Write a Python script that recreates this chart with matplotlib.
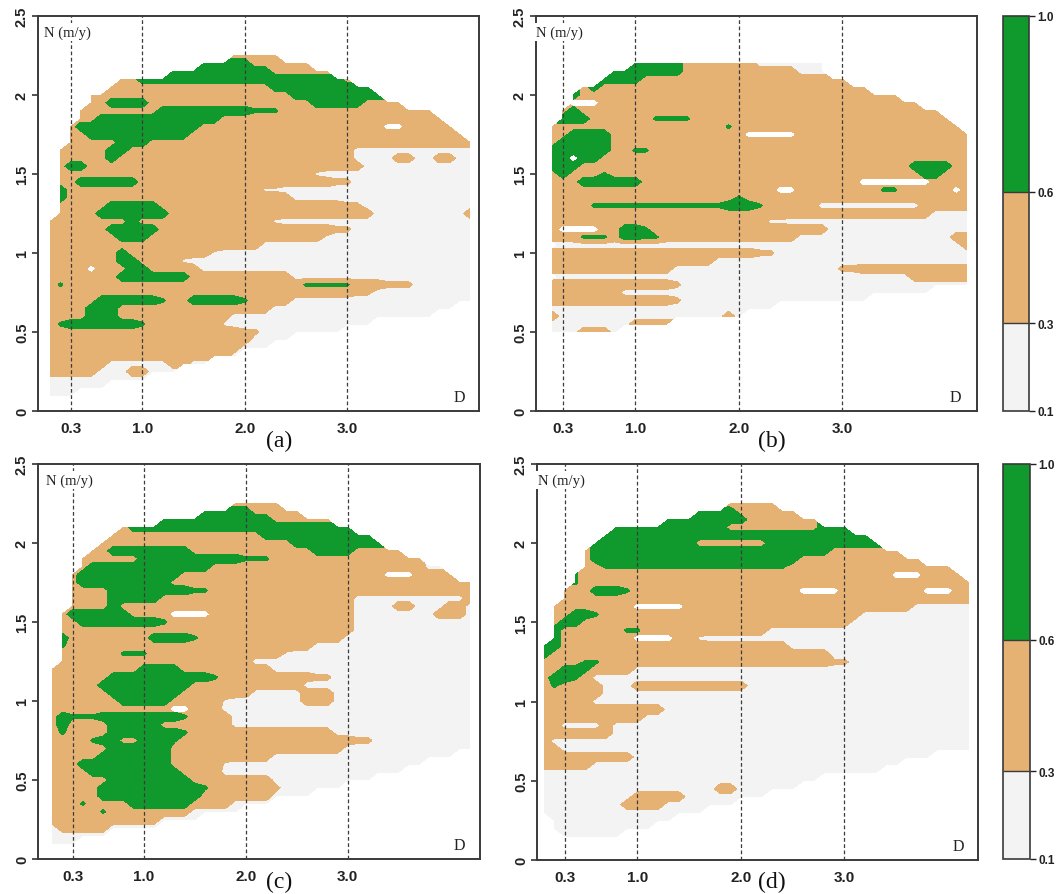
import numpy as np
import matplotlib
matplotlib.use("Agg")
import matplotlib.pyplot as plt

# grid of the field: columns x = 0.1 .. 4.2, rows y = 0.05 .. 2.30
xs = np.round(np.arange(0.1, 4.21, 0.1), 2)
ys = np.round(np.arange(0.05, 2.31, 0.05), 2)

levels = [0.1, 0.3, 0.6, 1.0]
colors = ["#f3f3f3", "#e6b274", "#10992c"]

# class of each grid node, run-length coded, rows from y=2.30 down to y=0.05
# . outside  w/x 0.1-0.3  t/s 0.3-0.6  g/h 0.6-1.0  o/p/q blank spot
panel_a = [
    "", ".18 t5", ".15 g5 t6", ".12 g10 t6", ".7 t2 g20 t1",
    ".6 t16 g10", ".4 t20 g9", ".4 t2 g4 t16 g5 t4", ".3 t8 g9 h3 t15", ".3 t2 g12 t22",
    ".2 t1 g12 t18 o2 t5", ".2 t2 g10 t27", ".2 t5 g3 t32", ".1 t5 g2 t22 w12",
    ".1 t5 g1 t23 w4 t2 w2 t2 w2",
    ".1 t1 g2 t27 w11", ".1 t25 x1 w15", ".1 t2 g6 t19 s2 w12", ".1 g1 t19 x2 w19",
    ".1 g1 t22 w18",
    ".1 t5 g5 t18 s2 w11", ".1 t4 g7 t20 w9 t1", "t8 g1 t13 x1 w19", "t6 g5 t17 s2 w12",
    "t7 g3 t17 x1 w14",
    "t21 w21", "t7 g1 t8 x1 w25", "t7 g2 t4 x1 w28", "t4 o1 t3 g2 t5 w27", "t7 g7 t10 w18",
    "t1 h1 t23 h5 t3 s3 w6", "t30 s2 w10", "t5 g6 h1 t2 g5 h1 t4 w18", "t4 g3 t15 w18",
    "t4 g3 t11 w20",
    "t1 h1 g7 h1 t7 x1 w14", "t19 s2 w8", "t20 w4", "t19 w3", "t18 w1",
    "t6 w6 t2 w2", "t5 w3 t2 w3", "w10", "w6", "w3", "",
]
panel_b = [
    "", "", ".9 g5 t7 w7", ".7 g7 t11 w3", ".6 g4 t20",
    ".4 t1 g1 t26", ".3 g1 t31", ".3 o3 t31", ".2 t1 g1 t35", ".2 g3 t6 h4 t25",
    ".1 t17 h1 t22", ".1 t2 g4 t13 o5 t17", ".1 t1 g5 t35", ".1 g6 t2 h2 t31", ".1 g2 q1 g2 t36",
    ".1 g3 t32 g4 t2", ".1 t1 g1 t3 h1 t30 g2 t3", ".1 t3 g6 t21 o7 t4",
    ".1 t22 o2 t8 h2 t5 o1 t1", ".1 t18 h1 t22",
    ".1 t4 h13 g3 h1 t5 w10 t5", ".1 t37 w4", ".1 t21 x2 w18", ".1 t1 o4 t2 g2 h1 t17 w14",
    ".1 t3 h3 t1 g2 h2 t13 w15 t2",
    ".1 p1 w39 t1", ".1 t20 s2 w19", ".1 t16 w25", ".1 t12 w16 s2 t11", ".1 p1 w34 t6",
    ".1 t12 s1 w28", ".1 t7 w30", ".1 t12 s1 w18", ".1 w22", ".1 t1 w16 t1 w1",
    ".1 w8 t4", ".1 w3 t3 w1", "", "", "",
    "", "", "", "", "", "",
]
panel_c = [
    "", ".18 t5", ".15 g5 t5", ".11 g11 t6", ".7 t1 g22",
    ".6 t15 g11", ".5 t19 g9", ".4 t2 g8 t12 g4 t5", ".3 t6 g10 h3 t15", ".3 t1 g12 t21 w2",
    ".2 t1 g10 t20 o3 t4", ".2 t1 g9 t30", ".2 t4 g8 h2 t26", ".2 t4 g5 t19 w11 t1",
    ".2 t4 g1 t23 w4 t2 w3 t2 w1",
    ".1 t1 g6 t4 o4 t14 w8 t3 w1", ".1 t2 g8 h1 t18 w12", ".1 t29 w12",
    ".1 g1 t8 g4 h1 t14 w13", ".1 h1 t24 w16",
    ".1 t6 h3 t13 x1 w18", ".1 t19 w22", "t9 g4 t9 w20", "t6 g10 h1 t9 s2 w14", "t5 g9 t11 w17",
    "t6 g7 t7 w5 t3 w14", "t7 g5 t5 x1 w7 t3 w14", "t12 o2 t3 w25", "t1 g1 h3 g8 h1 t4 w24",
    "t1 g1 t4 g5 t7 w24",
    "t1 h1 t4 g7 h1 t14 w14", "t4 h1 g2 t2 g3 h1 t17 s2 w10", "t6 g6 t17 w13", "t5 g7 t10 w18",
    "t3 g9 t5 x1 w19",
    "t4 g9 t4 w18", "t6 g8 t8 w10", "t5 g10 h1 t6 s1 w6", "t5 g10 t7 w4", "t3 h1 t4 g6 t4 w4",
    "t5 h1 t8 w5", "t11 w4", "w1 t5 w5", "w6", "w3", "",
]
panel_d = [
    "", ".18 t5", ".15 g4 t6", ".12 g8 t7", ".7 g11 t9 g3",
    ".6 g26", ".5 g10 t7 g11", ".4 t1 g23 t7", ".4 t1 g20 t12", ".4 t2 h18 t16",
    ".3 h1 t30 o3 t4", ".3 h1 t38", ".2 t3 g3 h1 t16 o4 t8 o3 t2", ".2 t40", ".1 t8 o5 t22 w6",
    ".1 t2 g2 h1 t25 w11", ".1 t1 g2 t26 w12", ".1 g1 t6 h2 t12 w20", ".1 g1 t7 o4 t2 x1 w26",
    "g2 t22 w18",
    "g1 t27 w14", "t4 h2 t22 s2 w12", "t2 g2 h1 t4 w33", "t1 g2 h1 t1 w37", "t1 h1 t4 w3 t11 w22",
    "t6 w36", "t5 w37", "t12 w30", "t10 w32", "t2 w4 t1 w35",
    "t7 w35", "t1 w41", "t2 w40", "t9 w29", "t5 w30",
    "w33", "w27", "w17 t2 w6", "w9 t5 w8", "w8 t4 w7",
    "w16", ".1 w12", ".1 w10", ".2 w6", "", "",
]

node_value = {".": np.nan, "w": 0.2, "x": 0.26, "p": 0.2, "s": 0.36, "t": 0.45, "o": 0.45,
              "h": 0.65, "g": 0.8, "q": 0.8}

x_ticks = [0.3, 1.0, 2.0, 3.0]
x_labels = ["0.3", "1.0", "2.0", "3.0"]
y_ticks = [0, 0.5, 1, 1.5, 2, 2.5]
y_labels = ["0", "0.5", "1", "1.5", "2", "2.5"]


def decode(rows):
    out = []
    for r in rows:
        s = "".join(tok[0] * int(tok[1:]) for tok in r.split())
        out.append((s + "." * len(xs))[:len(xs)])
    return out[::-1]


W, H = 1060, 895
fig = plt.figure(figsize=(W / 100, H / 100), dpi=100)


def box(l, t, r, b):
    return [l / W, 1 - b / H, (r - l) / W, (b - t) / H]


serif = "Liberation Serif"
sans = "Liberation Sans"

panels = [
    (panel_a, box(38, 17, 479, 412), (-0.02, 4.29), "(a)", (279, 441)),
    (panel_b, box(536, 17, 977, 412), (0.04, 4.30), "(b)", (772, 441)),
    (panel_c, box(38, 465, 480, 860), (-0.04, 4.30), "(c)", (279, 882)),
    (panel_d, box(537, 465, 978, 861), (0.03, 4.29), "(d)", (772, 882)),
]

sets = []
for rows, rect, xl, tag, tpos in panels:
    ax = fig.add_axes(rect)
    grid = decode(rows)
    Z = np.ma.masked_invalid(np.array([[node_value[c] for c in line] for line in grid]))
    holes = np.array([[1.0 if c in "opq" else 0.0 for c in line] for line in grid])
    cs = ax.contourf(xs, ys, Z, levels=levels, colors=colors, zorder=1)
    if holes.any():
        ax.contourf(xs, ys, holes, levels=[0.7, 1.5], colors="white", zorder=2)
    sets.append(cs)

    for xv in x_ticks:
        ax.axvline(xv, color="#3c3c3c", lw=0.9, ls=(0, (3, 2)), zorder=3)

    ax.set_xlim(*xl)
    ax.set_ylim(0, 2.5)
    ax.set_xticks(x_ticks)
    ax.set_xticklabels(x_labels)
    ax.set_yticks(y_ticks)
    ax.set_yticklabels(y_labels)
    ax.tick_params(axis="x", length=0, pad=7, labelsize=11, colors="#222222")
    ax.tick_params(axis="y", length=4.5, width=1.1, pad=2, labelsize=10.5, colors="#222222")
    for lab in ax.get_xticklabels() + ax.get_yticklabels():
        lab.set_fontweight("bold")
        lab.set_family(sans)
    for lab in ax.get_yticklabels():
        lab.set_rotation(90)
        lab.set_va("center")
    for sp in ax.spines.values():
        sp.set_linewidth(1.4)
        sp.set_color("#3a3a3a")

    ax.text(0.04, 2.40, "N (m/y)", family=serif, fontsize=10.5, ha="left", va="center",
            color="#222222", zorder=4,
            bbox=dict(facecolor="white", edgecolor="none", pad=1.5))
    ax.text(4.04, 0.09, "D", family=serif, fontsize=11.5, ha="left", va="center",
            color="#222222", zorder=4)
    fig.text(tpos[0] / W, 1 - tpos[1] / H, tag, family=serif, fontsize=17,
             ha="center", va="center", color="#111111")

for cs, rect in [(sets[1], box(1003, 17, 1029, 412)), (sets[3], box(1003, 465, 1030, 860))]:
    cax = fig.add_axes(rect)
    cb = fig.colorbar(cs, cax=cax, ticks=levels, spacing="proportional", drawedges=True)
    cb.ax.set_yticklabels(["0.1", "0.3", "0.6", "1.0"])
    cb.ax.tick_params(length=4, width=1, pad=2, labelsize=8.5, colors="#222222")
    for lab in cb.ax.get_yticklabels():
        lab.set_fontweight("bold")
        lab.set_family(sans)
    cb.outline.set_linewidth(1.2)
    cb.outline.set_edgecolor("#3a3a3a")
    cb.dividers.set_color("#3a3a3a")
    cb.dividers.set_linewidth(1.0)

fig.savefig("out.png", dpi=100)
